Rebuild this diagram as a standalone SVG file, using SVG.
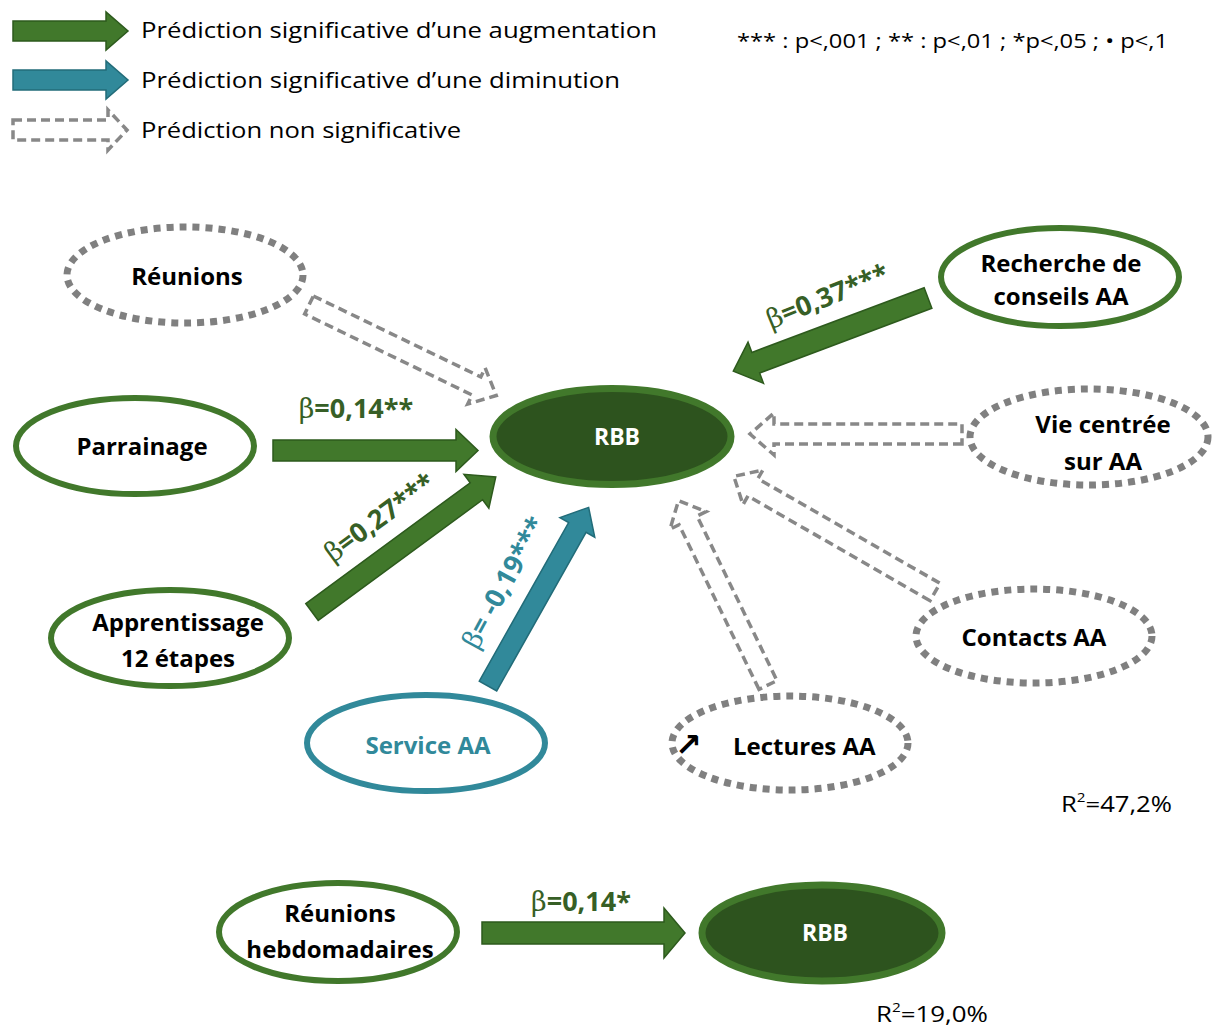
<svg xmlns="http://www.w3.org/2000/svg" width="1215" height="1029" viewBox="0 0 1215 1029">
<style>
.bg{fill:#ffffff}
.nodeG{fill:#ffffff;stroke:#41782b;stroke-width:6}
.nodeT{fill:#ffffff;stroke:#31899a;stroke-width:6}
.nodeD{fill:#ffffff;stroke:#808080;stroke-width:7;stroke-dasharray:7 6}
.nodeF{fill:#2d531e;stroke:#41782b;stroke-width:7}
.lbl{font-family:"Open Sans","Liberation Sans",sans-serif;font-weight:bold;font-size:24px;fill:#000000;text-anchor:middle}
.lblS{text-anchor:start}
.arw{font-family:"DejaVu Sans",sans-serif;font-weight:bold;font-size:32px}
.lblW{font-family:"Open Sans","Liberation Sans",sans-serif;font-weight:bold;font-size:23px;fill:#ffffff;text-anchor:middle}
.lblTeal{fill:#31899a}
.coef{font-family:"Open Sans","Liberation Sans",sans-serif;font-weight:bold;font-size:27px;fill:#375f26;text-anchor:middle}
.coefT{fill:#31899a}
.beta{font-family:"DejaVu Serif","Liberation Serif",serif;font-weight:normal}
.leg{font-family:"Open Sans","Liberation Sans",sans-serif;font-size:22px;fill:#000000}
.note{font-family:"Open Sans","Liberation Sans",sans-serif;font-size:20px;fill:#000000}
.r2{font-family:"Open Sans","Liberation Sans",sans-serif;font-size:22px;fill:#000000}
.sup{font-size:13px}
.aG{fill:#41782b;stroke:#2d5a1d;stroke-width:1.5;stroke-linejoin:miter}
.aT{fill:#31899a;stroke:#226c79;stroke-width:1.5;stroke-linejoin:miter}
.aD{fill:#ffffff;stroke:#888888;stroke-width:3.5;stroke-dasharray:9 5}
</style>
<rect class="bg" x="0" y="0" width="1215" height="1029"/>

<!-- legend -->
<g id="legend">
  <path class="aG" d="M13,21 L106,21 L106,12 L128,31 L106,50 L106,41 L13,41 Z"/>
  <text class="leg" x="141" y="38" textLength="516" lengthAdjust="spacingAndGlyphs">Prédiction significative d’une augmentation</text>
  <path class="aT" d="M13,70 L106,70 L106,61 L128,80 L106,99 L106,90 L13,90 Z"/>
  <text class="leg" x="141" y="88" textLength="479" lengthAdjust="spacingAndGlyphs">Prédiction significative d’une diminution</text>
  <path class="aD" d="M13,120 L108,120 L108,110 L127,130 L108,150 L108,140 L13,140 Z"/>
  <text class="leg" x="141" y="138" textLength="320" lengthAdjust="spacingAndGlyphs">Prédiction non significative</text>
  <text class="note" x="737" y="48" textLength="431" lengthAdjust="spacingAndGlyphs">*** : p&lt;,001 ; ** : p&lt;,01 ; *p&lt;,05 ; • p&lt;,1</text>
</g>

<!-- connectors -->
<g id="connectors">
  <!-- Parrainage -> RBB -->
  <path class="aG" transform="translate(273,450.5)" d="M0,-10.5 L183,-10.5 L183,-21 L205,0 L183,21 L183,10.5 L0,10.5 Z"/>
  <!-- Apprentissage -> RBB -->
  <path class="aG" transform="translate(312,612) rotate(-36.3)" d="M0,-10.5 L204,-10.5 L204,-21 L228,0 L204,21 L204,10.5 L0,10.5 Z"/>
  <!-- Service AA -> RBB -->
  <path class="aT" transform="translate(488,686) rotate(-60.6)" d="M0,-10 L182,-10 L182,-20 L205,0 L182,20 L182,10 L0,10 Z"/>
  <!-- Recherche -> RBB -->
  <path class="aG" transform="translate(928,298) rotate(159.4)" d="M0,-11 L184,-11 L184,-22 L208,0 L184,22 L184,11 L0,11 Z"/>
  <!-- Reunions -> RBB (ns) -->
  <path class="aD" transform="translate(309,305) rotate(25.8)" d="M0,-10 L186,-10 L186,-20 L208,0 L186,20 L186,10 L0,10 Z"/>
  <!-- Vie centree -> RBB (ns) -->
  <path class="aD" transform="translate(962,434) rotate(180)" d="M0,-10 L188,-10 L188,-21 L212,0 L188,21 L188,10 L0,10 Z"/>
  <!-- Contacts -> RBB (ns) -->
  <path class="aD" transform="translate(935,592) rotate(209.9)" d="M0,-10 L210,-10 L210,-20 L232,0 L210,20 L210,10 L0,10 Z"/>
  <!-- Lectures -> RBB (ns) -->
  <path class="aD" transform="translate(768,685) rotate(-115.9)" d="M0,-10 L183,-10 L183,-20 L205,0 L183,20 L183,10 L0,10 Z"/>
  <!-- bottom: Reunions hebdo -> RBB -->
  <path class="aG" transform="translate(482,933)" d="M0,-11 L182,-11 L182,-25 L203,0 L182,25 L182,11 L0,11 Z"/>

  <!-- coefficient labels -->
  <text class="coef" x="356" y="418"><tspan class="beta">β</tspan>=0,14**</text>
  <text class="coef" transform="translate(385,525) rotate(-36.3)" x="0" y="0"><tspan class="beta">β</tspan>=0,27***</text>
  <text class="coef coefT" transform="translate(512,587) rotate(-61.5)" x="0" y="0"><tspan class="beta">β</tspan>= -0,19***</text>
  <text class="coef" transform="translate(831,305) rotate(-22)" x="0" y="0"><tspan class="beta">β</tspan>=0,37***</text>
  <text class="coef" x="581" y="911"><tspan class="beta">β</tspan>=0,14*</text>
</g>

<!-- nodes -->
<g id="node-reunions">
  <ellipse class="nodeD" cx="185" cy="275" rx="118" ry="48"/>
  <text class="lbl" x="187" y="285">Réunions</text>
</g>
<g id="node-parrainage">
  <ellipse class="nodeG" cx="135" cy="446" rx="119" ry="48"/>
  <text class="lbl" x="142" y="455">Parrainage</text>
</g>
<g id="node-apprentissage">
  <ellipse class="nodeG" cx="170" cy="638" rx="119" ry="48"/>
  <text class="lbl" x="178" y="631">Apprentissage</text>
  <text class="lbl" x="178" y="667">12 étapes</text>
</g>
<g id="node-service">
  <ellipse class="nodeT" cx="426" cy="743" rx="119" ry="48"/>
  <text class="lbl lblTeal" x="428" y="754">Service AA</text>
</g>
<g id="node-lectures">
  <ellipse class="nodeD" cx="790" cy="743" rx="118" ry="47"/>
  <text class="lbl lblS" y="755"><tspan class="arw" x="675" y="756">↗</tspan><tspan x="733" y="755">Lectures AA</tspan></text>
</g>
<g id="node-rbb">
  <ellipse class="nodeF" cx="612" cy="436.5" rx="119" ry="48"/>
  <text class="lblW" x="617" y="445">RBB</text>
</g>
<g id="node-recherche">
  <ellipse class="nodeG" cx="1060" cy="277" rx="119" ry="49"/>
  <text class="lbl" x="1061" y="272">Recherche de</text>
  <text class="lbl" x="1061" y="305">conseils AA</text>
</g>
<g id="node-vie">
  <ellipse class="nodeD" cx="1089" cy="437" rx="119" ry="48"/>
  <text class="lbl" x="1103" y="433">Vie centrée</text>
  <text class="lbl" x="1103" y="470">sur AA</text>
</g>
<g id="node-contacts">
  <ellipse class="nodeD" cx="1034" cy="636" rx="118" ry="47"/>
  <text class="lbl" x="1034" y="646">Contacts AA</text>
</g>
<g id="node-reunions-hebdo">
  <ellipse class="nodeG" cx="338" cy="932" rx="119" ry="49"/>
  <text class="lbl" x="340" y="922">Réunions</text>
  <text class="lbl" x="340" y="958">hebdomadaires</text>
</g>
<g id="node-rbb2">
  <ellipse class="nodeF" cx="822" cy="933" rx="120" ry="48"/>
  <text class="lblW" x="825" y="941">RBB</text>
</g>

<g id="r2">
  <text class="r2" x="1061" y="812" textLength="111" lengthAdjust="spacingAndGlyphs">R<tspan class="sup" dy="-10">2</tspan><tspan dy="10">=47,2%</tspan></text>
  <text class="r2" x="876" y="1022" textLength="112" lengthAdjust="spacingAndGlyphs">R<tspan class="sup" dy="-10">2</tspan><tspan dy="10">=19,0%</tspan></text>
</g>
</svg>
